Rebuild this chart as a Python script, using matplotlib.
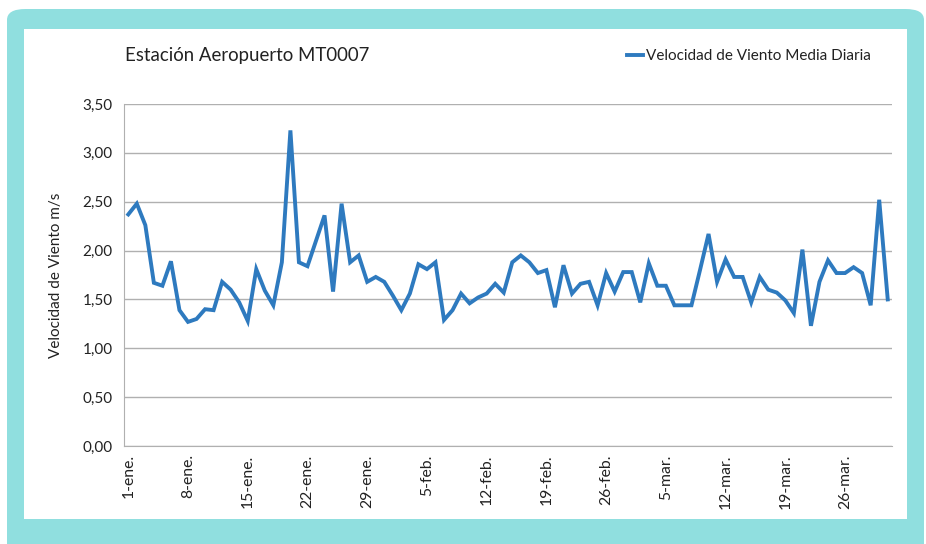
import numpy as np
import pandas as pd
from matplotlib import pyplot as plt
from matplotlib.patches import FancyBboxPatch, Rectangle

# daily mean wind speed (m/s), 1-ene .. 31-mar
viento = [2.37, 2.48, 2.26, 1.67, 1.64, 1.89, 1.39, 1.27, 1.30, 1.40,
          1.39, 1.68, 1.60, 1.47, 1.28, 1.81, 1.59, 1.44, 1.88, 3.23,
          1.88, 1.84, 2.10, 2.36, 1.58, 2.48, 1.88, 1.95, 1.68, 1.73,
          1.68, 1.54, 1.39, 1.56, 1.86, 1.81, 1.88, 1.29, 1.39, 1.56,
          1.46, 1.52, 1.56, 1.66, 1.57, 1.88, 1.95, 1.88, 1.77, 1.80,
          1.42, 1.85, 1.56, 1.66, 1.68, 1.44, 1.77, 1.58, 1.78, 1.78,
          1.47, 1.87, 1.64, 1.64, 1.44, 1.44, 1.44, 1.80, 2.17, 1.68,
          1.91, 1.73, 1.73, 1.47, 1.73, 1.60, 1.57, 1.49, 1.36, 2.01,
          1.23, 1.68, 1.90, 1.77, 1.77, 1.83, 1.77, 1.44, 2.52, 1.50]
fechas = pd.date_range("2013-01-01", periods=len(viento), freq="D")
meses = ["ene", "feb", "mar"]
y_ticks = [0, 0.5, 1.0, 1.5, 2.0, 2.5, 3.0, 3.5]

plt.rcParams['font.family'] = ['Lato', 'DejaVu Sans']

fig = plt.figure(figsize=(9.26, 5.44), dpi=100)
W, H = 926, 544

# teal frame and white panel (behind the axes)
fig.patches.append(FancyBboxPatch((7 / W, -0.05), 917 / W, (544 - 9) / H + 0.05,
                                  boxstyle="round,pad=0,rounding_size=0.02",
                                  transform=fig.transFigure, fc="#90dfdf", ec="none",
                                  zorder=-10))
fig.patches.append(Rectangle((24 / W, (544 - 519) / H), (907 - 24) / W, (519 - 29) / H,
                             transform=fig.transFigure, fc="white", ec="none",
                             zorder=-9))

ax = fig.add_axes([124 / W, 98 / H, (892 - 124) / W, (446 - 104) / H])
ax.set_facecolor("none")
x = np.arange(len(viento))
ax.plot(x, viento, color="#2e7abf", lw=2.8, solid_joinstyle="miter",
        label="Velocidad de Viento Media Diaria")

ax.set_xlim(-0.5, len(viento) - 0.5)
ax.set_ylim(0, 3.5)
ax.set_yticks(y_ticks)
ax.set_yticklabels([f"{v:.2f}".replace(".", ",") for v in y_ticks])
ax.yaxis.grid(True, color="#b0b0b0", lw=1.0)
ax.set_axisbelow(True)

pos = x[::7]
ax.set_xticks(pos)
ax.set_xticklabels([f"{fechas[i].day}-{meses[fechas[i].month - 1]}." for i in pos],
                   rotation=90)

for s in ["top", "right"]:
    ax.spines[s].set_visible(False)
for s in ["left", "bottom"]:
    ax.spines[s].set_color("#b0b0b0")
ax.tick_params(length=0, labelsize=11, colors="#222222", pad=8)
ax.tick_params(axis="x", labelsize=11.3, pad=6)

ax.set_ylabel("Velocidad de Viento m/s", fontsize=11, color="#222222", labelpad=14)

fig.text(125 / W, 1 - 56 / H, "Estación Aeropuerto MT0007", fontsize=13.4,
         color="#222222", va="center")
ax.legend(loc="center left", bbox_to_anchor=(619 / W, 1 - 56 / H),
          bbox_transform=fig.transFigure, frameon=False, fontsize=11,
          handlelength=1.1, handletextpad=0.2, borderpad=0, labelcolor="#222222")

fig.savefig("out.png", dpi=100)
